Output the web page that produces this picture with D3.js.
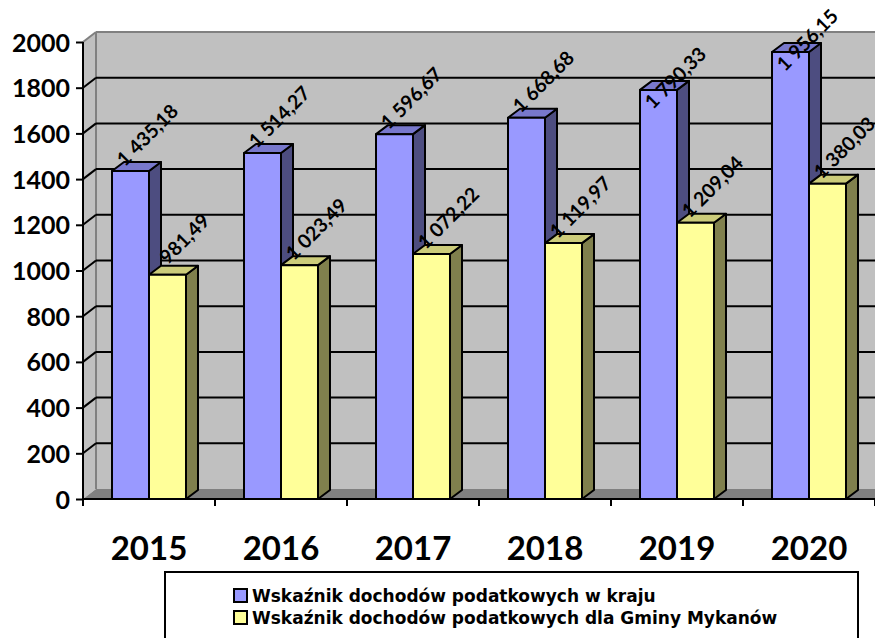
<!DOCTYPE html>
<html>
<head>
<meta charset="utf-8">
<script src="https://cdn.jsdelivr.net/npm/d3@7"></script>
<style>
  body { margin: 0; background: #fff; }
  svg { display: block; }
  text { font-family: Lato, "Open Sans", sans-serif; font-weight: bold; fill: #000; }
</style>
</head>
<body>
<div id="chart"></div>
<script>
// data
var years = ["2015", "2016", "2017", "2018", "2019", "2020"];
var seriesNames = ["Wskaźnik dochodów podatkowych w kraju", "Wskaźnik dochodów podatkowych dla Gminy Mykanów"];
var krajValues = [1435.18, 1514.27, 1596.67, 1668.68, 1790.33, 1956.15];
var gminaValues = [981.49, 1023.49, 1072.22, 1119.97, 1209.04, 1380.03];
var yTicks = [0, 200, 400, 600, 800, 1000, 1200, 1400, 1600, 1800, 2000];

var width = 875, height = 638;
var pLeft = 83, pRight = 875, pBottom = 499, pTop = 42;
var wallDx = 13, wallDy = -10;   // depth of walls
var barDx = 12, barDy = -9;      // depth of bars

var colors = [
    { front: "#9999ff", top: "#7878cc", side: "#4d4d80" },
    { front: "#ffff99", top: "#cccc7a", side: "#80804d" }
];

var svg = d3.select("#chart")
    .append("svg")
    .attr("width", width)
    .attr("height", height);

var x = d3.scaleBand().domain(years).range([pLeft, pRight]);
var xSub = d3.scaleBand()
    .domain([0, 1])
    .range([0, x.bandwidth()])
    .paddingInner(0)
    .paddingOuter(0.784);
var y = d3.scaleLinear().domain([0, 2000]).range([pBottom, pTop]);

var plotRight = pRight + 20;

// back wall
svg.append("rect")
    .attr("x", pLeft + wallDx).attr("y", pTop + wallDy)
    .attr("width", plotRight - pLeft - wallDx).attr("height", pBottom - pTop)
    .attr("fill", "#c0c0c0");
// side wall
svg.append("polygon")
    .attr("points", [[pLeft, pBottom], [pLeft, pTop], [pLeft + wallDx, pTop + wallDy], [pLeft + wallDx, pBottom + wallDy]].join(" "))
    .attr("fill", "#c0c0c0");
// floor
svg.append("polygon")
    .attr("points", [[pLeft, pBottom], [pLeft + wallDx, pBottom + wallDy], [plotRight, pBottom + wallDy], [plotRight, pBottom]].join(" "))
    .attr("fill", "#808080");

// wall edges
svg.append("line")
    .attr("x1", pLeft + wallDx).attr("x2", pLeft + wallDx)
    .attr("y1", pTop + wallDy).attr("y2", pBottom + wallDy)
    .attr("stroke", "#808080").attr("stroke-width", 2);
svg.append("line")
    .attr("x1", pLeft + wallDx).attr("x2", plotRight)
    .attr("y1", pTop + wallDy).attr("y2", pTop + wallDy)
    .attr("stroke", "#808080").attr("stroke-width", 2);
svg.append("line")
    .attr("x1", pLeft).attr("x2", pLeft + wallDx)
    .attr("y1", pTop).attr("y2", pTop + wallDy)
    .attr("stroke", "#808080").attr("stroke-width", 2);

// gridlines on back and side wall
var grid = yTicks.filter(function (d) { return d > 0 && d < 2000; });
svg.append("g").selectAll("line")
    .data(grid).enter().append("line")
    .attr("x1", pLeft + wallDx).attr("x2", plotRight)
    .attr("y1", function (d) { return y(d) + wallDy; })
    .attr("y2", function (d) { return y(d) + wallDy; })
    .attr("stroke", "#000").attr("stroke-width", 2);
svg.append("g").selectAll("line")
    .data(grid).enter().append("line")
    .attr("x1", pLeft).attr("x2", pLeft + wallDx)
    .attr("y1", function (d) { return y(d); })
    .attr("y2", function (d) { return y(d) + wallDy; })
    .attr("stroke", "#000").attr("stroke-width", 2);

// y axis
var yAxis = svg.append("g")
    .attr("transform", "translate(" + pLeft + ",0)")
    .call(d3.axisLeft(y).tickValues(yTicks).tickSize(7).tickPadding(6).tickFormat(d3.format("d")));
yAxis.select(".domain").attr("stroke", "#000").attr("stroke-width", 2).attr("d", "M0," + pBottom + "V" + pTop);
yAxis.selectAll(".tick line").attr("stroke", "#000").attr("stroke-width", 2);
yAxis.selectAll(".tick text")
    .style("font-size", "25px")
    .style("font-family", "Lato")
    .attr("fill", "#000")
    .attr("dy", "0.36em");

// x axis
var xAxis = svg.append("g")
    .attr("transform", "translate(0," + pBottom + ")");
xAxis.append("line")
    .attr("x1", pLeft).attr("x2", plotRight)
    .attr("stroke", "#000").attr("stroke-width", 2);
xAxis.selectAll(".xt")
    .data(years.concat(["end"])).enter().append("line")
    .attr("x1", function (d, i) { return pLeft + i * x.step(); })
    .attr("x2", function (d, i) { return pLeft + i * x.step(); })
    .attr("y1", 0).attr("y2", 7)
    .attr("stroke", "#000").attr("stroke-width", 2);
xAxis.selectAll("text")
    .data(years).enter().append("text")
    .attr("x", function (d) { return x(d) + x.bandwidth() / 2; })
    .attr("y", 61)
    .attr("text-anchor", "middle")
    .style("font-size", "33px")
    .text(function (d) { return d; });

// bars
var rows = years.map(function (yr, i) {
    return { year: yr, values: [krajValues[i], gminaValues[i]] };
});

var bars = [];
rows.forEach(function (r) {
    r.values.forEach(function (v, s) {
        bars.push({ year: r.year, s: s, value: v });
    });
});

var barG = svg.append("g");
bars.forEach(function (b) {
    var x0 = x(b.year) + xSub(b.s);
    var x1 = x0 + xSub.bandwidth();
    var y0 = y(b.value);
    var c = colors[b.s];
    var g = barG.append("g")
        .attr("stroke", "#000")
        .attr("stroke-width", 2)
        .attr("stroke-linejoin", "round");
    g.append("polygon")
        .attr("points", [[x1, y0], [x1 + barDx, y0 + barDy], [x1 + barDx, pBottom + barDy], [x1, pBottom]].join(" "))
        .attr("fill", c.side);
    g.append("polygon")
        .attr("points", [[x0, y0], [x0 + barDx, y0 + barDy], [x1 + barDx, y0 + barDy], [x1, y0]].join(" "))
        .attr("fill", c.top);
    g.append("rect")
        .attr("x", x0).attr("y", y0)
        .attr("width", x1 - x0).attr("height", pBottom - y0)
        .attr("fill", c.front);
});

// value labels
var pl = d3.formatLocale({ decimal: ",", thousands: " ", grouping: [3], currency: ["", " zł"] });
var fmt = pl.format(",.2f");

svg.append("g").selectAll("text")
    .data(bars).enter().append("text")
    .attr("text-anchor", "middle")
    .attr("dy", "0.35em")
    .style("font-size", "19.5px")
    .attr("transform", function (d) {
        var cx = x(d.year) + xSub(d.s) + xSub.bandwidth() / 2 + 17;
        var cy = y(d.value) - 36;
        if (cy < 62) cy = y(d.value) - 12;
        return "translate(" + cx + "," + cy + ") rotate(-45)";
    })
    .text(function (d) { return fmt(d.value); });

// legend
var legend = svg.append("g");
legend.append("rect")
    .attr("x", 165).attr("y", 572)
    .attr("width", 693).attr("height", 90)
    .attr("fill", "#fff")
    .attr("stroke", "#000").attr("stroke-width", 2);
var item = legend.selectAll(".item")
    .data(seriesNames).enter().append("g")
    .attr("transform", function (d, i) { return "translate(234," + (589 + i * 22) + ")"; });
item.append("rect")
    .attr("width", 13).attr("height", 13)
    .attr("fill", function (d, i) { return colors[i].front; })
    .attr("stroke", "#000").attr("stroke-width", 2);
item.append("text")
    .attr("x", 18).attr("y", 13)
    .style("font-size", "17px")
    .style("font-family", "'DejaVu Sans'")
    .text(function (d) { return d; });
</script>
</body>
</html>
